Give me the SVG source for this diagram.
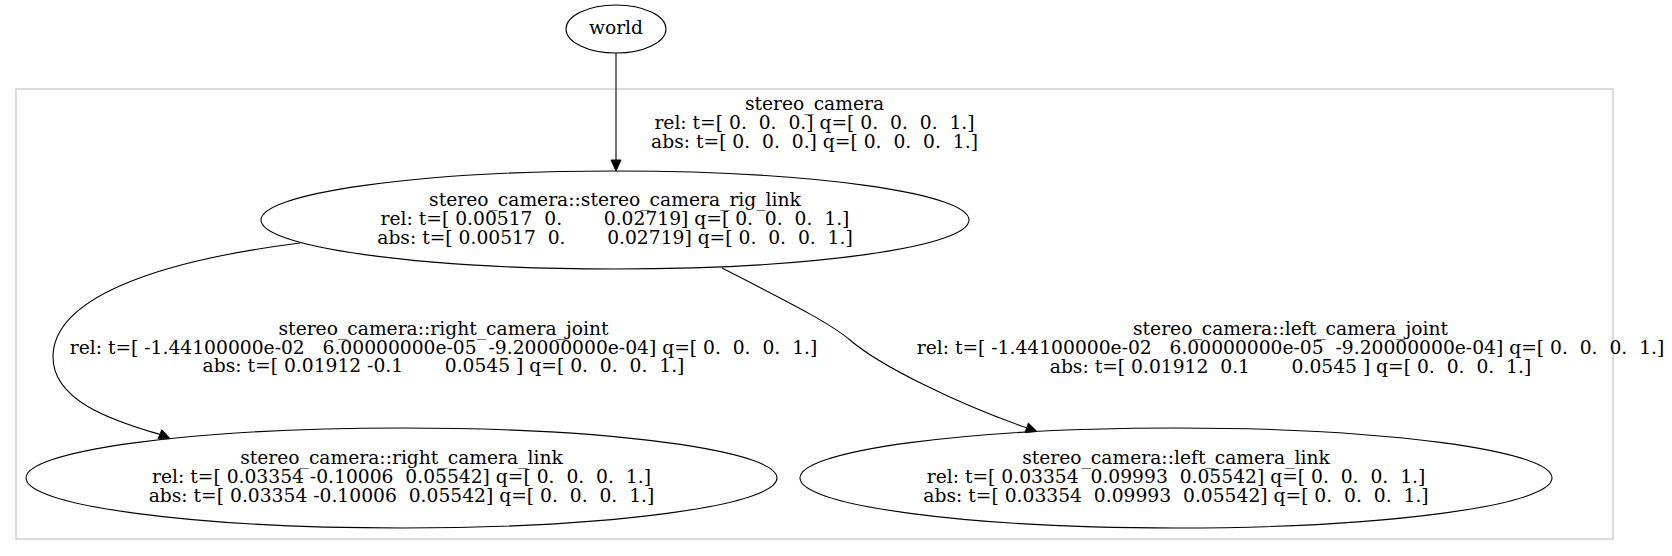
<svg xmlns="http://www.w3.org/2000/svg" width="1672" height="556" viewBox="0 0 1672 556" xml:space="preserve">
<style>
text{font-family:"DejaVu Serif","Liberation Serif",serif;font-size:18.7px;fill:#000;text-anchor:middle;white-space:pre}
.node{fill:none;stroke:#000;stroke-width:1.1}
.edge{fill:none;stroke:#000;stroke-width:1.1}
.arrow{fill:#000;stroke:#000;stroke-width:1}
.cluster{fill:none;stroke:#c8c8c8;stroke-width:1.3}
</style>
<rect width="1672" height="556" fill="#fff"/>
<g id="cluster_stereo_camera">
<rect class="cluster" x="16" y="89" width="1597" height="450"/>
<text x="814.5" y="110">stereo_camera</text>
<text x="814.5" y="129">rel: t=[ 0.  0.  0.] q=[ 0.  0.  0.  1.]</text>
<text x="814.5" y="148">abs: t=[ 0.  0.  0.] q=[ 0.  0.  0.  1.]</text>
</g>
<g id="world">
<ellipse class="node" cx="616" cy="29" rx="50" ry="24"/>
<text x="616" y="34">world</text>
</g>
<g id="rig_link">
<ellipse class="node" cx="615" cy="220" rx="354" ry="49"/>
<text x="615" y="206">stereo_camera::stereo_camera_rig_link</text>
<text x="615" y="225">rel: t=[ 0.00517  0.       0.02719] q=[ 0.  0.  0.  1.]</text>
<text x="615" y="243.5">abs: t=[ 0.00517  0.       0.02719] q=[ 0.  0.  0.  1.]</text>
</g>
<g id="right_camera_link">
<ellipse class="node" cx="401.5" cy="478" rx="375.5" ry="50"/>
<text x="401.5" y="464">stereo_camera::right_camera_link</text>
<text x="401.5" y="483">rel: t=[ 0.03354 -0.10006  0.05542] q=[ 0.  0.  0.  1.]</text>
<text x="401.5" y="502">abs: t=[ 0.03354 -0.10006  0.05542] q=[ 0.  0.  0.  1.]</text>
</g>
<g id="left_camera_link">
<ellipse class="node" cx="1176" cy="478" rx="376" ry="50"/>
<text x="1176" y="464">stereo_camera::left_camera_link</text>
<text x="1176" y="483">rel: t=[ 0.03354  0.09993  0.05542] q=[ 0.  0.  0.  1.]</text>
<text x="1176" y="502">abs: t=[ 0.03354  0.09993  0.05542] q=[ 0.  0.  0.  1.]</text>
</g>
<g id="connectors">
<path class="edge" d="M616,53 L616,160"/>
<polygon class="arrow" points="611,160 616,171 621,160"/>
<path class="edge" d="M300,243 C150,262 53,300 53,357 C53,400 110,420 159.9,434.4"/>
<polygon class="arrow" points="158,439 170,438.6 161.8,429.8"/>
<text x="443.5" y="335">stereo_camera::right_camera_joint</text>
<text x="443.5" y="353.5">rel: t=[ -1.44100000e-02   6.00000000e-05  -9.20000000e-04] q=[ 0.  0.  0.  1.]</text>
<text x="443.5" y="372">abs: t=[ 0.01912 -0.1       0.0545 ] q=[ 0.  0.  0.  1.]</text>
<path class="edge" d="M722,268 C790,303 830,323 850,340 C880,366 960,405 1026.7,427.8"/>
<polygon class="arrow" points="1025,432.5 1037,431.5 1028.4,423.1"/>
<text x="1290.5" y="335">stereo_camera::left_camera_joint</text>
<text x="1290.5" y="354">rel: t=[ -1.44100000e-02   6.00000000e-05  -9.20000000e-04] q=[ 0.  0.  0.  1.]</text>
<text x="1290.5" y="373">abs: t=[ 0.01912  0.1       0.0545 ] q=[ 0.  0.  0.  1.]</text>
</g>
</svg>
